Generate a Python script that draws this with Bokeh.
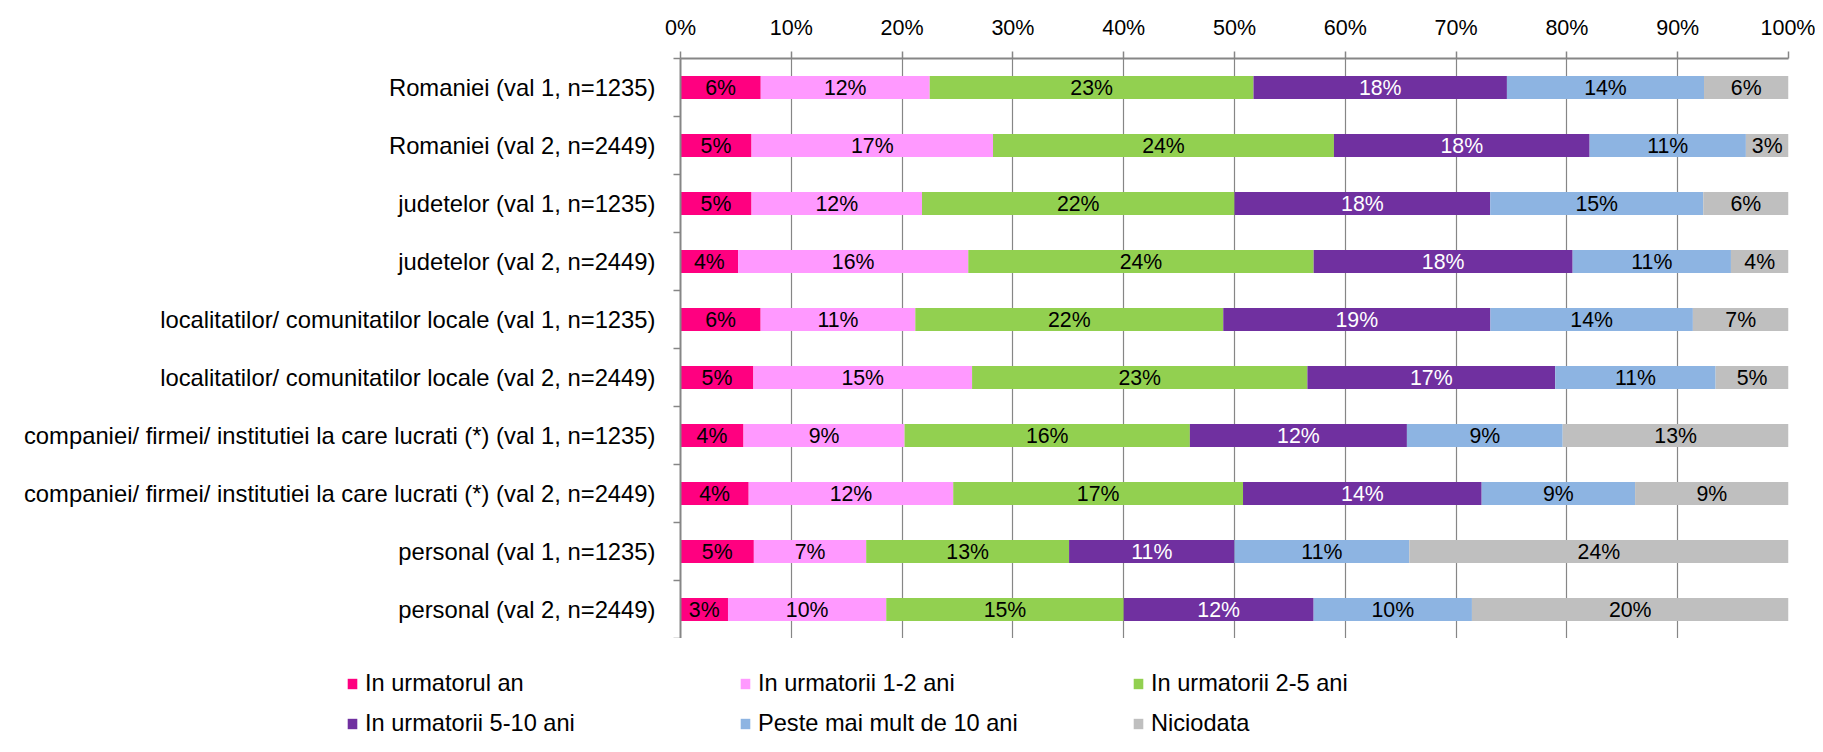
import numpy as np
from bokeh.plotting import figure
from bokeh.models import (ColumnDataSource, Range1d, FixedTicker, NumeralTickFormatter,
                          Legend, LegendItem)
from bokeh.layouts import column
from bokeh.core.properties import value
from bokeh.embed import file_html
from bokeh.resources import INLINE

categories = [
    "Romaniei (val 1, n=1235)",
    "Romaniei (val 2, n=2449)",
    "judetelor (val 1, n=1235)",
    "judetelor (val 2, n=2449)",
    "localitatilor/ comunitatilor locale (val 1, n=1235)",
    "localitatilor/ comunitatilor locale (val 2, n=2449)",
    "companiei/ firmei/ institutiei la care lucrati (*) (val 1, n=1235)",
    "companiei/ firmei/ institutiei la care lucrati (*) (val 2, n=2449)",
    "personal (val 1, n=1235)",
    "personal (val 2, n=2449)",
]

series_names = ["In urmatorul an", "In urmatorii 1-2 ani", "In urmatorii 2-5 ani",
                "In urmatorii 5-10 ani", "Peste mai mult de 10 ani", "Niciodata"]

urmatorul_an = [5.7, 5, 5, 4, 5.7, 5, 3.6, 4, 4.7, 3]
urmatorii_1_2 = [12, 17, 12, 16, 11, 15, 9.2, 12, 7.2, 10]
urmatorii_2_5 = [23, 24, 22, 24, 21.9, 23, 16.3, 17, 13, 15]
urmatorii_5_10 = [18, 18, 18, 18, 19, 17, 12.4, 14, 10.6, 12]
peste_10 = [14, 11, 15, 11, 14.4, 11, 8.9, 9, 11.2, 10]
niciodata = [6, 3, 6, 4, 6.8, 5, 12.9, 9, 24.3, 20]

colors = ["#FF0080", "#FF99FF", "#92D050", "#7030A0", "#8DB4E2", "#BFBFBF"]
label_colors = ["black", "black", "black", "white", "black", "black"]

tick_values = [0, 0.1, 0.2, 0.3, 0.4, 0.5, 0.6, 0.7, 0.8, 0.9, 1.0]

FONT = "Liberation Sans"
GRAY = "#868686"
W = 1815

series = [urmatorul_an, urmatorii_1_2, urmatorii_2_5, urmatorii_5_10, peste_10, niciodata]
keys = ["s%d" % i for i in range(len(series))]
vals = np.array(series, dtype=float)          # shape (6, 10)
totals = vals.sum(axis=0)
fracs = vals / totals                          # 100% stacked

n = len(categories)
ypos = np.arange(n) + 0.5

data = {"y": ypos}
for k, f in zip(keys, fracs):
    data[k] = f
source = ColumnDataSource(data)

p = figure(width=W, height=638, output_backend="svg", toolbar_location=None,
           x_range=Range1d(0, 1), y_range=Range1d(n, 0),
           x_axis_location="above",
           min_border_left=680, min_border_right=27, min_border_top=58, min_border_bottom=0)
p.outline_line_color = None
p.background_fill_color = "white"
p.frame_align = False

p.hbar_stack(keys, y="y", height=0.4, source=source, color=colors, line_color=None)

# data labels
lx, ly, lt, lc = [], [], [], []
cum = np.zeros(n)
for i in range(len(series)):
    centers = cum + fracs[i] / 2
    for j in range(n):
        lx.append(centers[j])
        ly.append(ypos[j])
        lt.append("%d%%" % int(vals[i][j] + 0.5))
        lc.append(label_colors[i])
    cum = cum + fracs[i]
lsrc = ColumnDataSource(dict(x=lx, y=ly, t=lt, c=lc))
p.text(x="x", y="y", text="t", source=lsrc, text_color="c",
       text_align="center", text_baseline="middle",
       text_font=value(FONT), text_font_size="21.3px")

# x axis (top)
xa = p.xaxis[0]
xa.ticker = FixedTicker(ticks=tick_values)
xa.formatter = NumeralTickFormatter(format="0%")
xa.axis_line_color = GRAY
xa.axis_line_width = 2
xa.major_tick_line_color = GRAY
xa.major_tick_line_width = 1.5
xa.major_tick_out = 7
xa.major_tick_in = 0
xa.minor_tick_line_color = None
xa.major_label_standoff = 12
xa.major_label_text_font = FONT
xa.major_label_text_font_size = "21.5px"
xa.major_label_text_color = "black"

# y axis (left) - labels at row centres, ticks at row boundaries
ya = p.yaxis[0]
ya.ticker = FixedTicker(ticks=list(ypos), minor_ticks=list(np.arange(n + 1)))
ya.major_label_overrides = {float(y): c for y, c in zip(ypos, categories)}
ya.axis_line_color = GRAY
ya.axis_line_width = 2
ya.major_tick_line_color = None
ya.major_tick_out = 0
ya.major_tick_in = 0
ya.minor_tick_line_color = GRAY
ya.minor_tick_line_width = 1.5
ya.minor_tick_out = 7
ya.minor_tick_in = 0
ya.major_label_standoff = 18
ya.major_label_text_font = FONT
ya.major_label_text_font_size = "23.8px"
ya.major_label_text_color = "black"

p.xgrid.grid_line_color = GRAY
p.xgrid.grid_line_width = 1.2
p.xgrid.ticker = FixedTicker(ticks=tick_values)
p.ygrid.grid_line_color = None

# legend strip below the chart (same series, drawn outside its visible range)
lg = figure(width=W, height=98, output_backend="svg", toolbar_location=None,
            x_range=Range1d(0, W), y_range=Range1d(1000, 1098),
            x_axis_type=None, y_axis_type=None, min_border=0)
lg.outline_line_color = None
lg.xgrid.visible = False
lg.ygrid.visible = False
lg.frame_align = False
leg_renderers = lg.hbar_stack(keys, y="y", height=0.4, source=source, color=colors,
                              line_color=None)
items = [LegendItem(label=nm, renderers=[r]) for nm, r in zip(series_names, leg_renderers)]
legend = Legend(items=items, ncols=3, orientation="horizontal",
                location=(346, -1), glyph_width=12, glyph_height=13,
                label_standoff=7, label_width=361, label_height=27,
                spacing=13, padding=0, margin=0,
                label_text_font=FONT, label_text_font_size="23.6px",
                label_text_color="black",
                border_line_color=None, background_fill_alpha=0)
lg.add_layout(legend, "center")

layout = column(p, lg, spacing=0)
open("out.html", "w").write(file_html(layout, INLINE))
